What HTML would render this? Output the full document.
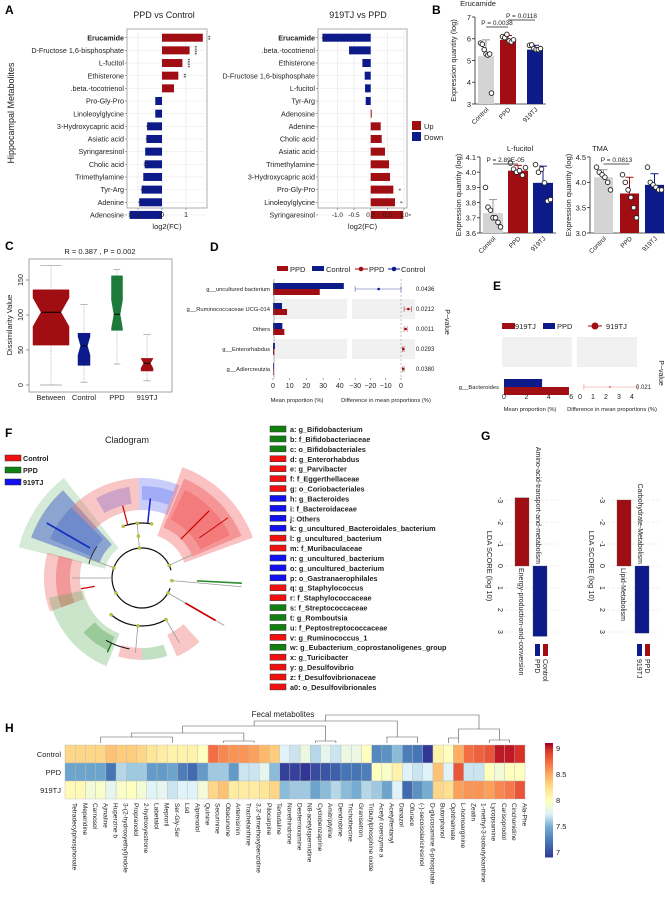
<!DOCTYPE html>
<html><head><meta charset="utf-8"><style>
html,body{margin:0;padding:0;background:#fff}
svg{display:block;font-family:"Liberation Sans",Arial,sans-serif}
</style></head><body>
<svg id="fig" width="665" height="897" viewBox="0 0 665 897" xmlns="http://www.w3.org/2000/svg">
<g id="root"></g>
</svg>
<script>
// ---------- DATA ----------
const aNamesL=["Erucamide","D-Fructose 1,6-bisphosphate","L-fucitol","Ethisterone",".beta.-tocotrienol","Pro-Gly-Pro","Linoleoylglycine","3-Hydroxycapric acid","Asiatic acid","Syringaresinol","Cholic acid","Trimethylamine","Tyr-Arg","Adenine","Adenosine"];
const aValsL=[1.7,1.15,0.85,0.68,0.5,-0.28,-0.28,-0.62,-0.65,-0.7,-0.72,-0.78,-0.85,-0.95,-1.35];
const aStarsL=["**","****","****","**","","","","*","*","","**","","*","*","**"];
const aNamesR=["Erucamide",".beta.-tocotrienol","Ethisterone","D-Fructose 1,6-bisphosphate","L-fucitol","Tyr-Arg","Adenosine","Adenine","Cholic acid","Asiatic acid","Trimethylamine","3-Hydroxycapric acid","Pro-Gly-Pro","Linoleoylglycine","Syringaresinol"];
const aValsR=[-1.45,-0.65,-0.25,-0.18,-0.17,-0.15,0.03,0.3,0.33,0.43,0.55,0.58,0.68,0.73,0.98];
const aStarsR=["*","","","","","","","","","","","","*","*","*"];
const aTicksL=[-1,0,1];
const aTicksR=[-1.0,-0.5,0.0,0.5,1.0];

const bGroups=["Control","PPD","919TJ"];
const bEruMeans=[5.2,5.95,5.5];
const bEruErr=[5.95,6.15,5.7];
const bEruPts=[[5.8,5.75,5.5,5.3,5.25,5.3,3.5],[6.1,6.05,6.2,5.9,5.85,5.95],[5.7,5.72,5.55,5.5,5.5,5.55]];
const bFucMeans=[3.73,4.01,3.93];
const bFucErr=[3.82,4.045,4.04];
const bFucPts=[[3.9,3.77,3.75,3.7,3.7,3.67,3.64],[4.06,4.02,4.0,4.01,3.98,4.03],[4.05,4.0,4.02,3.93,3.81,3.82]];
const bTmaMeans=[4.1,3.78,3.95];
const bTmaErr=[4.25,4.1,4.17];
const bTmaPts=[[4.3,4.2,4.15,4.1,4.0,3.85],[4.15,4.0,3.85,3.7,3.5,3.3],[4.3,4.0,3.95,3.9,3.85,3.85]];

const cGroups=["Between","Control","PPD","919TJ"];
const cQ1=[57,28,78,20];
const cMed=[104,56,101,31];
const cQ3=[136,74,156,38];
const cLo=[0,4,30,6];
const cHi=[171,115,165,72];
const cTicks=[0,50,100,150];

const dTaxa=["g__uncultured bacterium","g__Ruminococcaceae UCG-014","Others","g__Enterorhabdus","g__Adlercreutzia"];
const dPPD=[28,8.4,6.8,0.8,0.3];
const dCtrl=[42.4,5.4,5.6,1.2,0.4];
const dDiff=[-14.6,4.8,3,1.5,1.5];
const dLo=[-30,2,2,1,1];
const dHi=[0,7,4,2,2];
const dP=["0.0436","0.0212","0.0011","0.0293","0.0380"];
const dTicksL=[0,10,20,30,40];
const dTicksR=[-30,-20,-10,0];

const eTaxa=["g__Bacteroides"];
const e919=[5.8];
const ePPD=[3.4];
const eDiff=[2.3];
const eLo=[0.3];
const eHi=[4.4];
const eP=["0.021"];
const eTicksL=[0,2,4,6];
const eTicksR=[0,1,2,3,4];

const fItems=["a: g_Bifidobacterium","b: f_Bifidobacteriaceae","c: o_Bifidobacteriales","d: g_Enterorhabdus","e: g_Parvibacter","f: f_Eggerthellaceae","g: o_Coriobacteriales","h: g_Bacteroides","i: f_Bacteroidaceae","j: Others","k: g_uncultured_Bacteroidales_bacterium","l: g_uncultured_bacterium","m: f_Muribaculaceae","n: g_uncultured_bacterium","o: g_uncultured_bacterium","p: o_Gastranaerophilales","q: g_Staphylococcus","r: f_Staphylococcaceae","s: f_Streptococcaceae","t: g_Romboutsia","u: f_Peptostreptococcaceae","v: g_Ruminococcus_1","w: g_Eubacterium_coprostanoligenes_group","x: g_Turicibacter","y: g_Desulfovibrio","z: f_Desulfovibrionaceae","a0: o_Desulfovibrionales"];
const fColors=["g","g","g","r","r","r","r","b","b","b","b","r","r","b","b","b","r","r","g","g","g","r","g","r","r","r","r"];

const gLabels1=["Amino-acid-transport-and-metabolism","Energy-production-and-conversion"];
const gVals1=[-3.1,3.2];
const gLabels2=["Carbohydrate-Metabolism","Lipid-Metabolism"];
const gVals2=[-3.0,3.05];
const gTicks=[-3,-2,-1,0,1,2,3];

const hCols=["Tetradecylphosphonate","Meperidine","Carnosol","Ajmaline","Huperzine b","3-(2-hydroxyethyl)indole","Propranolol","2-hydroxyestrone","Labetalol","Meproril","Ser-Gly-Ser","Lsd","Alprenolol","Quinine","Securinine","Obacunone","Artemisinin","Trachelanthine","3,3'-dimethoxybenzidine","Pilocarpine","Terbutaline","Norethindrone","Desferrioxamine","N8-acetylspermidine","Cyclobenzaprine","Amitriptyline","Dendrobine","Trichothecine","Granisetron","Tributylphosphine oxide","Acetyl coenzyme a","Acetylfentanyl","Danazol","Ofurace","(-)-secoisolariciresinol","D-glucosamine 6-phosphate","Butorphanol","Ophthalmate","L-homoarginine","Zeatin","1-methyl-3-isobutylxanthine","Lycopsamine","Carisoprodol","Cinchonidine","Ala-Phe"];
const hRows=["Control","PPD","919TJ"];
const hControl=[8.3,8.3,8.3,8.3,8.4,8.35,8.35,8.3,8.2,8.15,8.1,8.1,8.1,8.0,8.75,8.65,8.6,8.6,8.55,8.45,8.35,7.75,7.7,7.85,7.65,7.8,7.7,7.85,7.85,8.0,7.3,7.35,7.55,7.25,7.2,6.9,8.1,8.0,8.5,8.75,8.8,8.85,9.05,9.05,9.0];
const hPPD=[7.45,7.45,7.45,7.45,7.2,7.65,7.6,7.6,7.4,7.4,7.45,7.25,7.15,7.4,7.6,7.6,7.4,7.7,7.7,7.8,7.55,6.95,6.95,6.9,7.0,7.05,7.1,7.2,7.2,7.25,8.0,7.95,8.1,7.75,7.7,7.75,8.4,7.75,8.85,7.7,7.7,8.0,7.9,8.0,8.0];
const h919=[8.05,8.05,7.9,7.95,7.8,7.95,8.0,7.9,7.75,7.8,7.7,7.75,7.75,7.9,8.3,8.4,8.15,8.15,8.15,8.2,8.3,7.55,7.6,7.6,7.45,7.55,7.65,7.55,7.5,7.65,7.6,7.45,7.75,7.15,7.35,7.5,8.3,8.25,8.55,8.6,8.6,8.55,8.65,8.7,8.85];
const hTicks=[7,7.5,8,8.5,9];

// ---------- HELPERS ----------
const NS="http://www.w3.org/2000/svg";
const root=document.getElementById('root');
function el(tag,attrs,parent,txt){const e=document.createElementNS(NS,tag);for(const k in attrs)e.setAttribute(k,attrs[k]);if(txt!==undefined)e.textContent=txt;(parent||root).appendChild(e);return e;}
function grp(name,parent){const g=el('g',{},parent);


return g;}
function T(x,y,s,size,parent,opt){opt=opt||{};const a={x:x,y:y,'font-size':size,fill:opt.fill||'#222'};if(opt.anchor)a['text-anchor']=opt.anchor;if(opt.weight)a['font-weight']=opt.weight;if(opt.rot!==undefined)a.transform=`rotate(${opt.rot} ${x} ${y})`;const t=el('text',a,parent,s);return t;}
const RED="#a00d12",BLUE="#0d1a8a",GREY="#d4d4d4",GREEN="#1d7a3a";

// ---------- PANEL LETTERS ----------
const letters=[["A",5,14],["B",432,14],["C",5,250],["D",210,251],["E",493,290],["F",5,437],["G",481,440],["H",5,732]];
letters.forEach(l=>{const t=T(l[1],l[2],l[0],12,null,{weight:'bold',fill:'#000'});

});

// ---------- PANEL A ----------
function aChart(name,names,vals,stars,ticks,fx,x0,x1,title,tx,boldFirst,tickSize){
  const g=grp(name);
  const yTop=29,yBot=208,rowY=i=>37.7+i*12.66;
  el('rect',{x:x0,y:yTop,width:x1-x0,height:yBot-yTop,fill:'#fff',stroke:'#9a9a9a','stroke-width':0.8},g);
  for(let i=0;i<names.length;i++) el('line',{x1:x0,x2:x1,y1:rowY(i),y2:rowY(i),stroke:'#ececec','stroke-width':0.6},g);
  ticks.forEach(t=>el('line',{x1:fx(t),x2:fx(t),y1:yTop,y2:yBot,stroke:'#e6e6e6','stroke-width':0.6},g));
  names.forEach((nm,i)=>{
    const v=vals[i],y=rowY(i);
    const b=el('rect',{x:Math.min(fx(0),fx(v)),y:y-4,width:Math.abs(fx(v)-fx(0)),height:8,fill:v>=0?RED:BLUE},g);
    
    
    T(x0-3,y+2.6,nm,7.2,g,{anchor:'end',weight:(boldFirst&&i===0)?'bold':null});
    el('line',{x1:x0-2,x2:x0,y1:y,y2:y,stroke:'#555','stroke-width':0.5},g);
    if(stars[i]){const sx=v>=0?fx(v)+3:fx(v)-3;T(sx,y,stars[i],6,g,{anchor:'middle',rot:90});}
  });
  ticks.forEach(t=>{el('line',{x1:fx(t),x2:fx(t),y1:yBot,y2:yBot+2,stroke:'#555','stroke-width':0.5},g);
    T(fx(t),yBot+9,(ticks.length<4)?String(t):t.toFixed(1),tickSize,g,{anchor:'middle'});});
  T((x0+x1)/2,yBot+21,"log2(FC)",7.5,g,{anchor:'middle'});
  T(tx,18,title,9,g,{anchor:'middle'});
}
const xAL=v=>162+24*v, xAR=v=>370.7+33.3*v;
aChart('chart-ppd-vs-control',aNamesL,aValsL,aStarsL,aTicksL,xAL,127,207,"PPD vs Control",164,true,7.2);
aChart('chart-919tj-vs-ppd',aNamesR,aValsR,aStarsR,aTicksR,xAR,318,407,"919TJ vs PPD",358,true,6.4);
{const t=T(14,113,"Hippocampal Metabolites",9,null,{anchor:'middle',rot:-90});
}
{const g=grp('legend-up-down');
el('rect',{x:412,y:121,width:9,height:9,fill:RED},g);T(424,129,"Up",7.5,g);
el('rect',{x:412,y:132,width:9,height:9,fill:BLUE},g);T(424,140,"Down",7.5,g);}

// ---------- PANEL B ----------
function bChart(name,title,tx,ty,axX,yMin,yMax,yTopPx,yBotPx,ticks,fmt,means,errs,pts,bx,bw,pann){
  const g=grp(name);
  const fy=v=>yBotPx-(v-yMin)/(yMax-yMin)*(yBotPx-yTopPx);
  T(tx,ty,title,7.5,g,{anchor:'middle'});
  el('line',{x1:axX,x2:axX,y1:fy(yMax),y2:yBotPx,stroke:'#222','stroke-width':0.8},g);
  el('line',{x1:axX,x2:bx[2]+bw+3,y1:yBotPx,y2:yBotPx,stroke:'#222','stroke-width':0.8},g);
  ticks.forEach(t=>{el('line',{x1:axX-3,x2:axX,y1:fy(t),y2:fy(t),stroke:'#222','stroke-width':0.8},g);
    T(axX-4,fy(t)+2.8,fmt(t),7.5,g,{anchor:'end'});});
  const cols=[GREY,RED,BLUE];
  bGroups.forEach((gn,i)=>{
    const x=bx[i],cx=x+bw/2;
    const r=el('rect',{x:x,y:fy(means[i]),width:bw,height:yBotPx-fy(means[i]),fill:cols[i]},g);
    
    
    const ec=i===0?'#999':cols[i];
    el('line',{x1:cx,x2:cx,y1:fy(means[i]),y2:fy(errs[i]),stroke:ec,'stroke-width':1},g);
    el('line',{x1:cx-4,x2:cx+4,y1:fy(errs[i]),y2:fy(errs[i]),stroke:ec,'stroke-width':1},g);
    pts[i].forEach((p,j)=>{const n=pts[i].length;const dx=(j-(n-1)/2)*(bw-5)/(n-1);
      const c=el('circle',{cx:cx+dx,cy:fy(p),r:2.3,fill:'#fff',stroke:'#222','stroke-width':0.9},g);
      
      });
    T(cx+3,yBotPx+6,gn,6.5,g,{anchor:'end',rot:-45});
  });
  pann.forEach(p=>{const x1=bx[p[0]]+bw/2,x2=bx[p[1]]+bw/2;
    el('line',{x1:x1,x2:x2,y1:p[2],y2:p[2],stroke:'#222','stroke-width':0.7},g);
    T((x1+x2)/2,p[2]-2,p[3],6.5,g,{anchor:'middle'});});
  T(axX-19,(yTopPx+yBotPx)/2,"Expression quantity (log)",7.5,g,{anchor:'middle',rot:-90});
}
bChart('chart-erucamide',"Erucamide",478,6,475,3,7,17,104,[3,4,5,6,7],t=>String(t),bEruMeans,bEruErr,bEruPts,[478,500,527],16,[[0,1,27,"P = 0.0038"],[1,2,20,"P = 0.0118"]]);
bChart('chart-l-fucitol',"L-fucitol",520,151,480,3.6,4.1,157,233,[3.6,3.7,3.8,3.9,4.0,4.1],t=>t.toFixed(1),bFucMeans,bFucErr,bFucPts,[483,508,533],20,[[0,1,164,"P = 2.89E-05"]]);
bChart('chart-tma',"TMA",600,151,590,3.0,4.5,157,233,[3.0,3.5,4.0,4.5],t=>t.toFixed(1),bTmaMeans,bTmaErr,bTmaPts,[594,620,645],19,[[0,1,164,"P = 0.0813"]]);

// ---------- PANEL C ----------
{const g=grp('chart-dissimilarity-boxplot');
 const fy=v=>385-0.7*v;
 const cx=[51,84,117,147],hw=[18,6,5.5,6];
 const cols=[RED,BLUE,GREEN,RED];
 el('rect',{x:29,y:259,width:143,height:133,fill:'#fff',stroke:'#9a9a9a','stroke-width':0.9},g);
 T(100,254,"R =  0.387 ,  P =  0.002",7.5,g,{anchor:'middle'});
 cTicks.forEach(t=>{el('line',{x1:26,x2:29,y1:fy(t),y2:fy(t),stroke:'#555','stroke-width':0.6},g);
   T(23,fy(t),String(t),7,g,{anchor:'middle',rot:-90});});
 T(12,325,"Dissimilarity Value",7.5,g,{anchor:'middle',rot:-90});
 cGroups.forEach((gname,i)=>{
   const x=cx[i],w=hw[i];
   el('line',{x1:x,x2:x,y1:fy(cLo[i]),y2:fy(cHi[i]),stroke:'#aaa','stroke-width':0.7,'stroke-dasharray':'1.2,1'},g);
   el('line',{x1:x-w*0.6,x2:x+w*0.6,y1:fy(cLo[i]),y2:fy(cLo[i]),stroke:'#999','stroke-width':0.7},g);
   el('line',{x1:x-w*0.6,x2:x+w*0.6,y1:fy(cHi[i]),y2:fy(cHi[i]),stroke:'#999','stroke-width':0.7},g);
   const notch=(cQ3[i]-cQ1[i])*0.22+3;
   const pts=[[x-w,fy(cQ3[i])],[x+w,fy(cQ3[i])],[x+w,fy(cMed[i]+notch)],[x+w*0.55,fy(cMed[i])],[x+w,fy(cMed[i]-notch)],[x+w,fy(cQ1[i])],[x-w,fy(cQ1[i])],[x-w,fy(cMed[i]-notch)],[x-w*0.55,fy(cMed[i])],[x-w,fy(cMed[i]+notch)]];
   const p=el('polygon',{points:pts.map(q=>q.join(',')).join(' '),fill:cols[i],stroke:cols[i],'stroke-width':0.5},g);
   
   
   el('line',{x1:x-w*0.55,x2:x+w*0.55,y1:fy(cMed[i]),y2:fy(cMed[i]),stroke:'#000','stroke-width':1},g);
   T(x,400,gname,7.5,g,{anchor:'middle'});
 });
}

// ---------- PANEL D ----------
{const g=grp('chart-extended-error-bar-ppd-control');
 const rowY=i=>289+i*20;
 const fxL=v=>273+v*1.67, fxR=v=>401+v*1.53;
 el('rect',{x:277,y:266,width:11,height:5,fill:RED},g);T(290,272,"PPD",7.5,g);
 el('rect',{x:312,y:266,width:12,height:5,fill:BLUE},g);T(326,272,"Control",7.5,g);
 el('line',{x1:355,x2:368,y1:269,y2:269,stroke:RED,'stroke-width':1},g);el('circle',{cx:361,cy:269,r:2.3,fill:RED},g);T(369,272,"PPD",7.5,g);
 el('line',{x1:388,x2:400,y1:269,y2:269,stroke:BLUE,'stroke-width':1},g);el('circle',{cx:394,cy:269,r:2.3,fill:BLUE},g);T(401,272,"Control",7.5,g);
 dTaxa.forEach((nm,i)=>{const y=rowY(i);
   if(i%2===1){el('rect',{x:274,y:y-10,width:73,height:20,fill:'#f1f1f1'},g);el('rect',{x:352,y:y-10,width:63,height:20,fill:'#f1f1f1'},g);}
 });
 el('line',{x1:401,x2:401,y1:279,y2:378,stroke:'#999','stroke-width':0.6,'stroke-dasharray':'2,2'},g);
 dTaxa.forEach((nm,i)=>{const y=rowY(i);
   const b1=el('rect',{x:fxL(0),y:y-6,width:fxL(dCtrl[i])-fxL(0),height:6,fill:BLUE},g);
   
   
   const b2=el('rect',{x:fxL(0),y:y,width:fxL(dPPD[i])-fxL(0),height:6,fill:RED},g);
   
   
   T(270,y+2,nm,5.8,g,{anchor:'end'});
   const c=dDiff[i]<0?BLUE:RED;
   el('line',{x1:fxR(dLo[i]),x2:fxR(dHi[i]),y1:y,y2:y,stroke:c,'stroke-width':0.6,opacity:0.7},g);
   el('line',{x1:fxR(dLo[i]),x2:fxR(dLo[i]),y1:y-3,y2:y+3,stroke:c,'stroke-width':0.6,opacity:0.7},g);
   el('line',{x1:fxR(dHi[i]),x2:fxR(dHi[i]),y1:y-3,y2:y+3,stroke:c,'stroke-width':0.6,opacity:0.7},g);
   const pt=el('circle',{cx:fxR(dDiff[i]),cy:y,r:1.3,fill:c},g);
   
   
   T(416,y+2,dP[i],6,g);
 });
 el('line',{x1:274,x2:274,y1:279,y2:378,stroke:'#666','stroke-width':0.5},g);
 dTicksL.forEach(t=>{el('line',{x1:fxL(t),x2:fxL(t),y1:378,y2:380,stroke:'#555','stroke-width':0.5},g);T(fxL(t),388,String(t),7,g,{anchor:'middle'});});
 dTicksR.forEach(t=>{el('line',{x1:fxR(t),x2:fxR(t),y1:378,y2:380,stroke:'#555','stroke-width':0.5},g);T(fxR(t),388,String(t).replace('-','\u2212'),7,g,{anchor:'middle'});});
 T(297,402,"Mean proportion (%)",5.8,g,{anchor:'middle'});
 T(386,402,"Difference in mean proportions (%)",5.8,g,{anchor:'middle'});
 T(445,322,"P\u2212value",7,g,{anchor:'middle',rot:90});
}

// ---------- PANEL E ----------
{const g=grp('chart-extended-error-bar-919tj-ppd');
 const fxL=v=>504+v*11.2, fxR=v=>580+v*13;
 el('rect',{x:502,y:323,width:13,height:6,fill:RED},g);T(515,329,"919TJ",7.5,g);
 el('rect',{x:543,y:323,width:12,height:6,fill:BLUE},g);T(557,329,"PPD",7.5,g);
 el('line',{x1:588,x2:602,y1:326,y2:326,stroke:RED,'stroke-width':1},g);el('circle',{cx:595,cy:326,r:3.5,fill:RED},g);T(606,329,"919TJ",7.5,g);
 el('rect',{x:502,y:337,width:70,height:30,fill:'#f1f1f1'},g);
 el('rect',{x:577,y:337,width:60,height:30,fill:'#f1f1f1'},g);
 eTaxa.forEach((nm,i)=>{const y=387;
   const b1=el('rect',{x:fxL(0),y:y-8,width:fxL(ePPD[i])-fxL(0),height:8,fill:BLUE},g);
   
   
   const b2=el('rect',{x:fxL(0),y:y,width:fxL(e919[i])-fxL(0),height:8,fill:RED},g);
   
   
   T(499,y+2,nm,5.8,g,{anchor:'end'});
   el('line',{x1:fxR(eLo[i]),x2:fxR(eHi[i]),y1:y,y2:y,stroke:'#e89090','stroke-width':0.6},g);
   el('line',{x1:fxR(eLo[i]),x2:fxR(eLo[i]),y1:y-3,y2:y+3,stroke:'#e89090','stroke-width':0.6},g);
   el('line',{x1:fxR(eHi[i]),x2:fxR(eHi[i]),y1:y-3,y2:y+3,stroke:'#e89090','stroke-width':0.6},g);
   const pt=el('circle',{cx:fxR(eDiff[i]),cy:y,r:1,fill:'#e07070'},g);
   
   
   T(636,y+2,eP[i],6,g);
 });
 eTicksL.forEach(t=>T(fxL(t),399,String(t),7,g,{anchor:'middle'}));
 eTicksR.forEach(t=>T(fxR(t),399,String(t),7,g,{anchor:'middle'}));
 T(530,411,"Mean proportion (%)",5.8,g,{anchor:'middle'});
 T(612,411,"Difference in mean proportions (%)",5.8,g,{anchor:'middle'});
 T(659,373,"P\u2212value",7,g,{anchor:'middle',rot:90});
}

// ---------- PANEL F ----------
{const g=grp('cladogram');
 const cx=142,cy=578;
 const P=(r,a)=>[cx+r*Math.cos(a*Math.PI/180),cy+r*Math.sin(a*Math.PI/180)];
 function sector(r1,r2,a1,a2,fill,op){const p1=P(r2,a1),p2=P(r2,a2),p3=P(r1,a2),p4=P(r1,a1);const la=(a2-a1)>180?1:0;
   el('path',{d:`M${p1[0]},${p1[1]} A${r2},${r2} 0 ${la} 1 ${p2[0]},${p2[1]} L${p3[0]},${p3[1]} A${r1},${r1} 0 ${la} 0 ${p4[0]},${p4[1]} Z`,fill:fill,'fill-opacity':op},g);}
 const secs=[[38,127,194,232,'#2e9a3a',0.2],[45,118,200,228,'#3050c8',0.45],[55,100,203,225,'#2040c0',0.25],[68,100,225,268,'#f07070',0.4],[75,92,240,262,'#8060c8',0.35],[68,100,268,292,'#6070f0',0.35],[78,92,270,290,'#5060f0',0.3],[45,118,290,340,'#f05050',0.35],[55,108,293,337,'#f03030',0.3],[65,98,296,334,'#f03030',0.25],[62,98,160,195,'#f07070',0.4],[72,86,160,195,'#e03030',0.3],[60,95,112,168,'#50a850',0.3],[65,80,115,137,'#2a8a2a',0.3],[70,82,90,107,'#f07070',0.4],[70,82,72,90,'#50a850',0.35],[62,86,48,66,'#f07070',0.4]];
 secs.forEach(s=>sector(...s));
 function arc(r,a1,a2,stroke,w){const p1=P(r,a1),p2=P(r,a2);el('path',{d:`M${p1[0]},${p1[1]} A${r},${r} 0 ${(a2-a1)>180?1:0} 1 ${p2[0]},${p2[1]}`,fill:'none',stroke:stroke,'stroke-width':w},g);}
 function rad(r1,r2,a,stroke,w){const p1=P(r1,a),p2=P(r2,a);el('line',{x1:p1[0],y1:p1[1],x2:p2[0],y2:p2[1],stroke:stroke,'stroke-width':w},g);}
 arc(30,20,345,'#111',1.2);
 arc(55,250,280,'#111',1.2);arc(55,195,215,'#111',0.8);arc(48,60,130,'#111',1.2);arc(72,100,120,'#111',1);
 rad(30,55,265,'#999',0.8);rad(55,75,255,'#c00',1.2);rad(55,80,276,'#1020d0',1.5);
 rad(30,60,200,'#999',0.8);rad(60,110,210,'#1030c0',1.6);
 rad(30,55,335,'#999',0.8);rad(55,95,315,'#c00',1.2);rad(70,105,325,'#c00',1);
 rad(30,100,5,'#999',0.8);rad(55,100,3,'#2a8a2a',1.6);
 rad(30,95,30,'#999',0.8);rad(50,85,30,'#c00',1.6);
 rad(30,70,180,'#999',0.8);rad(48,62,170,'#c00',1.3);
 rad(48,75,95,'#999',0.8);rad(48,75,60,'#999',0.8);rad(72,82,115,'#1a6a1a',1.3);
 [[30,265],[55,265],[42,265],[30,200],[30,335],[30,5],[30,30],[48,60],[48,95],[48,130],[30,150],[55,250],[55,280]].forEach(q=>{const p=P(q[0],q[1]);el('circle',{cx:p[0],cy:p[1],r:1.6,fill:'#c8c820',stroke:'#888','stroke-width':0.3},g);});
 el('text',{x:127,y:443,'font-size':9,'text-anchor':'middle',fill:'#222'},g,"Cladogram");
 [["Control","#f01010",461],["PPD","#108010",473],["919TJ","#1010f0",485]].forEach(l=>{el('rect',{x:5,y:l[2]-6,width:16,height:6,fill:l[1],stroke:'#333','stroke-width':0.5},g);T(23,l[2],l[0],7.2,g,{weight:'bold'});});
 const cmap={g:'#108010',r:'#f01010',b:'#1010f0'};
 fItems.forEach((s,i)=>{const y=432+i*9.92;
   const r=el('rect',{x:270,y:y-6,width:16,height:6,fill:cmap[fColors[i]],stroke:'#333','stroke-width':0.5},g);
   
   
   T(290,y,s,7.3,g,{weight:'bold'});});
}

// ---------- PANEL G ----------
function gChart(name,x0,labels,vals,legend){
  const g=grp(name);
  const fy=v=>566+v*22;
  gTicks.forEach(t=>{el('line',{x1:x0+7,x2:x0+60,y1:fy(t),y2:fy(t),stroke:'#e0e0e0','stroke-width':0.6,'stroke-dasharray':'3,2'},g);
    T(x0,fy(t),String(t),7,g,{anchor:'middle',rot:90});});
  T(x0-11,566,"LDA SCORE (log 10)",7.5,g,{anchor:'middle',rot:90});
  const b1=el('rect',{x:x0+17,y:fy(vals[0]),width:14,height:fy(0)-fy(vals[0]),fill:RED,stroke:'#555','stroke-width':0.3},g);
  
  
  const b2=el('rect',{x:x0+35,y:fy(0),width:14,height:fy(vals[1])-fy(0),fill:BLUE,stroke:'#555','stroke-width':0.3},g);
  
  
  T(x0+38,fy(0)-2,labels[0],7,g,{anchor:'end',rot:90});
  T(x0+21,fy(0)+2,labels[1],7,g,{anchor:'start',rot:90});
  el('rect',{x:x0+45,y:644,width:5,height:12,fill:RED},g);T(x0+45,659,legend[0],7,g,{rot:90});
  el('rect',{x:x0+37,y:644,width:5,height:12,fill:BLUE},g);T(x0+37,659,legend[1],7,g,{rot:90});
}
gChart('chart-lda-ppd-control',498,gLabels1,gVals1,["Control","PPD"]);
gChart('chart-lda-919tj-ppd',600,gLabels2,gVals2,["PPD","919TJ"]);

// ---------- PANEL H ----------
{const g=grp('heatmap-fecal-metabolites');
 const x0=65,x1=525,cw=(x1-x0)/hCols.length,rh=18,y0=745;
 const stops=[[6.9,[49,54,149]],[7.2,[69,117,180]],[7.5,[116,173,209]],[7.75,[224,243,248]],[8.0,[255,255,191]],[8.25,[254,224,144]],[8.5,[253,174,97]],[8.75,[244,109,67]],[9.0,[215,48,39]],[9.1,[165,0,38]]];
 function col(v){if(v<=stops[0][0])return `rgb(${stops[0][1]})`;for(let i=1;i<stops.length;i++){if(v<=stops[i][0]){const a=stops[i-1],b=stops[i],t=(v-a[0])/(b[0]-a[0]);return 'rgb('+a[1].map((c,k)=>Math.round(c+(b[1][k]-c)*t)).join(',')+')';}}return `rgb(${stops[stops.length-1][1]})`;}
 const rows=[hControl,hPPD,h919];
 rows.forEach((r,ri)=>{r.forEach((v,ci)=>{const c=el('rect',{x:x0+ci*cw,y:y0+ri*rh,width:cw,height:rh,fill:col(v),stroke:'#bbb','stroke-width':0.4},g);
   
   });
   T(x0-4,y0+ri*rh+rh/2+3,hRows[ri],7.5,g,{anchor:'end'});});
 hCols.forEach((nm,ci)=>T(x0+ci*cw+cw/2+2.5,803,nm,6.5,g,{rot:90}));
 T(283,717,"Fecal metabolites",8,g,{anchor:'middle'});
 const cxs=i=>x0+i*cw+cw/2;
 const dl=(a,b,y,ya,yb)=>{el('path',{d:`M${a},${ya}V${y}H${b}V${yb}`,fill:'none',stroke:'#555','stroke-width':0.6},g);};
 dl(cxs(3),cxs(10),737,743,743);dl(cxs(15),cxs(18),741,743,743);dl(cxs(6),cxs(17),733,737,741);
 dl(cxs(24),cxs(26),741,743,743);dl(cxs(11),cxs(25),726,733,741);
 dl(cxs(31),cxs(34),737,743,743);dl(cxs(18),cxs(32),721,726,737);
 dl(cxs(37),cxs(38),738,743,743);dl(cxs(41),cxs(43),740,743,743);dl(cxs(38),cxs(42),729,738,740);
 dl(cxs(25),cxs(40),715,721,729);
 const cb=grp('colorbar',g);
 for(let k=0;k<60;k++){const v=9.1-k*(2.2/60);el('rect',{x:545,y:743+k*114/60,width:8,height:114/60+0.5,fill:col(v)},cb);}
 hTicks.forEach(t=>{const y=743+(9.1-t)/2.2*114;T(556,y+3,String(t),7.5,cb);});
}
</script>
</body></html>
